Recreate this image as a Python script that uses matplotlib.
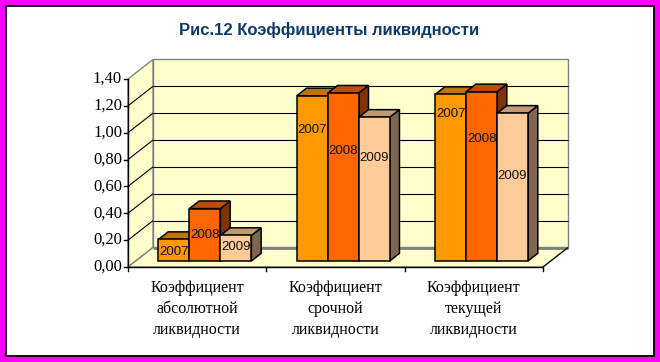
import matplotlib
matplotlib.use("Agg")
import matplotlib.pyplot as plt
from matplotlib.patches import Polygon, Rectangle

# data
CATEGORIES = ["Коэффициент\nабсолютной\nликвидности",
              "Коэффициент\nсрочной\nликвидности",
              "Коэффициент\nтекущей\nликвидности"]
YEARS = ["2007", "2008", "2009"]
VAL_2007 = [0.16, 1.23, 1.24]
VAL_2008 = [0.39, 1.25, 1.26]
VAL_2009 = [0.19, 1.07, 1.10]
YTICKS = [0.0, 0.2, 0.4, 0.6, 0.8, 1.0, 1.2, 1.4]

# where Excel put the year labels (value units inside each bar)
LABEL_POS = [[0.07, 0.19, 0.105],
             [0.975, 0.82, 0.77],
             [1.095, 0.91, 0.63]]

FRONT = ["#FF9900", "#FF6600", "#FFCC99"]
TOP = ["#BF7300", "#BF4C00", "#BF9973"]
SIDE = ["#7F4C00", "#7F3300", "#7F6650"]
WALL = "#FFFFCC"
EDGE = "#808080"

plt.rcParams["font.family"] = ["Liberation Sans", "DejaVu Sans"]

W, H = 660, 362
fig = plt.figure(figsize=(W / 100, H / 100), dpi=100, facecolor="#FF00FF")
fig.add_artist(Rectangle((6 / W, 1 - 356 / H), 648 / W, 350 / H, transform=fig.transFigure,
                         facecolor="white", edgecolor="black", linewidth=1.3, zorder=-1))

ax = fig.add_axes([0, 0, 1, 1])
ax.patch.set_visible(False)
ax.axis("off")

# pixel mapping: category units along x, value units along y
X0, XS = 128, 138.33
Y0, YS = 267, 134.3
ax.set_xlim(-X0 / XS, (W - X0) / XS)
ax.set_ylim(-(H - Y0) / YS, Y0 / YS)

DX, DY = 25 / XS, 19.5 / YS
YMAX = 1.4
NCAT = len(CATEGORIES)


def proj(x, y, z):
    return x + z * DX, y + z * DY


def poly(pts, fc, ec, lw, z):
    ax.add_patch(Polygon([proj(*p) for p in pts], closed=True, facecolor=fc,
                         edgecolor=ec, linewidth=lw, joinstyle="miter", zorder=z))


def line(p, q, color, lw, z=2):
    a, b = proj(*p), proj(*q)
    ax.plot([a[0], b[0]], [a[1], b[1]], color=color, lw=lw, zorder=z,
            solid_capstyle="butt")


# walls and floor
poly([(0, 0, 1), (NCAT, 0, 1), (NCAT, YMAX, 1), (0, YMAX, 1)], WALL, EDGE, 1.0, 1)
poly([(0, 0, 0), (0, 0, 1), (0, YMAX, 1), (0, YMAX, 0)], WALL, EDGE, 1.0, 1)
poly([(0, 0, 0), (NCAT, 0, 0), (NCAT, 0, 1), (0, 0, 1)], WALL, EDGE, 1.0, 1)
line((0, 0, 1), (NCAT, 0, 1), EDGE, 2.0)

for v in YTICKS[1:-1]:
    line((0, v, 0), (0, v, 1), "black", 0.8)
    line((0, v, 1), (NCAT, v, 1), "black", 0.8)

# axes lines
line((0, 0, 0), (0, YMAX, 0), "black", 1.0, 5)
line((0, 0, 0), (NCAT, 0, 0), "black", 1.0, 5)
line((NCAT, 0, 0), (NCAT, 0, 1), "black", 0.8, 5)
for v in YTICKS:
    ax.plot([-4 / XS, 0], [v, v], color="black", lw=1.0, zorder=5)
    ax.text(-6 / XS, v, f"{v:.2f}".replace(".", ","), ha="right", va="center",
            fontsize=12, family=["Liberation Serif"])
for i in range(NCAT + 1):
    ax.plot([i, i], [0, -4 / YS], color="black", lw=1.0, zorder=5)
for i, cat in enumerate(CATEGORIES):
    ax.text(i + 0.5, -0.31, cat, ha="center", va="center", fontsize=11.5,
            family=["Liberation Serif"], linespacing=1.42)

# bars
series = [VAL_2007, VAL_2008, VAL_2009]
GAP, BW = 0.164, 0.224
Z0, Z1 = 0.31, 0.70
order = 0
for i in range(NCAT):
    for j, vals in enumerate(series):
        h = vals[i]
        xa = i + GAP + j * BW
        xb = xa + BW
        zo = 10 + order * 0.1
        poly([(xb, 0, Z0), (xb, 0, Z1), (xb, h, Z1), (xb, h, Z0)], SIDE[j], "black", 1.1, zo)
        poly([(xa, h, Z0), (xb, h, Z0), (xb, h, Z1), (xa, h, Z1)], TOP[j], "black", 1.1, zo + 0.01)
        poly([(xa, 0, Z0), (xb, 0, Z0), (xb, h, Z0), (xa, h, Z0)], FRONT[j], "black", 1.1, zo + 0.02)
        tx, ty = proj((xa + xb) / 2, LABEL_POS[i][j], Z0)
        ax.text(tx, ty, YEARS[j], ha="center", va="center", fontsize=9.5,
                color="#111111", zorder=30)
        order += 1

fig.text(329 / W, 1 - 30 / H, "Рис.12 Коэффициенты ликвидности", ha="center",
         va="center", fontsize=12, fontweight="bold", color="#0E3A6A")

fig.savefig("out.png", dpi=100, facecolor=fig.get_facecolor())
